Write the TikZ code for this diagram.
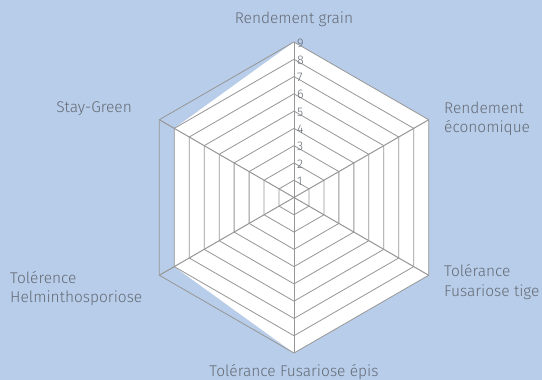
\documentclass[tikz,border=0pt]{standalone}
\usepackage{fontspec}
\setmainfont{Fira Sans}[UprightFont=* Light]
\usetikzlibrary{calc}
\definecolor{bgblue}{RGB}{184,205,233}
\definecolor{gridgray}{RGB}{150,150,150}
\definecolor{txtgray}{RGB}{100,107,117}
\tikzset{
  gridline/.style={draw=gridgray, line width=0.8pt},
  spoke/.style={draw=gridgray, line width=1pt},
  axislabel/.style={text=txtgray, font=\fontsize{15.5}{19.5}\selectfont, inner sep=0pt, align=left},
  ticklabel/.style={text=txtgray, font=\fontsize{12.5}{12.5}\selectfont, inner sep=0pt, anchor=west}
}
\begin{document}
\begin{tikzpicture}[x=1pt,y=1pt]
    \fill[bgblue] (0,0) rectangle (542,380);
    \useasboundingbox (0,0) rectangle (542,380);
    \def\rr{17.28}
    \coordinate (o) at (294,182.5);
    \def\vals{9,9,9,9,8,8}
    %        1 2 3 4 5 6
    \foreach \v [count=\i from 1] in \vals {\coordinate (d\i) at ($(o)+({90-60*(\i-1)}:{\v*\rr})$);}
    \foreach \v [count=\i from 1] in \vals {\coordinate (v\i) at ($(o)+({90-60*(\i-1)}:{9*\rr})$);}
    \fill[white] (d1)--(d2)--(d3)--(d4)--(d5)--(d6)--cycle;
    \foreach \r in {1,...,9} {\draw[gridline] ($(o)+(90:{\r*\rr})$) \foreach \a in {30,-30,...,-210} {-- ($(o)+(\a:{\r*\rr})$)} -- cycle;}
    \foreach \i in {1,...,6} {\draw[spoke] (o)--(v\i);}
    \foreach \r in {1,...,9} {\node[ticklabel] (t\r) at ($(o)+(90:{\r*\rr})+(3,-1)$) {\r};}
    \node[axislabel, anchor=center] (l1) at (294,361) {Rendement grain};
    \node[axislabel, anchor=west] (l2) at (444,261) {Rendement\\économique};
    \node[axislabel, anchor=west] (l3) at (444,98) {Tolérance\\Fusariose tige};
    \node[axislabel, anchor=center] (l4) at (294,8) {Tolérance Fusariose épis};
    \node[axislabel, anchor=west] (l5) at (10,91.5) {Tolérence\\Helminthosporiose};
    \node[axislabel, anchor=east] (l6) at (132,271) {Stay-Green};
\end{tikzpicture}
\end{document}
